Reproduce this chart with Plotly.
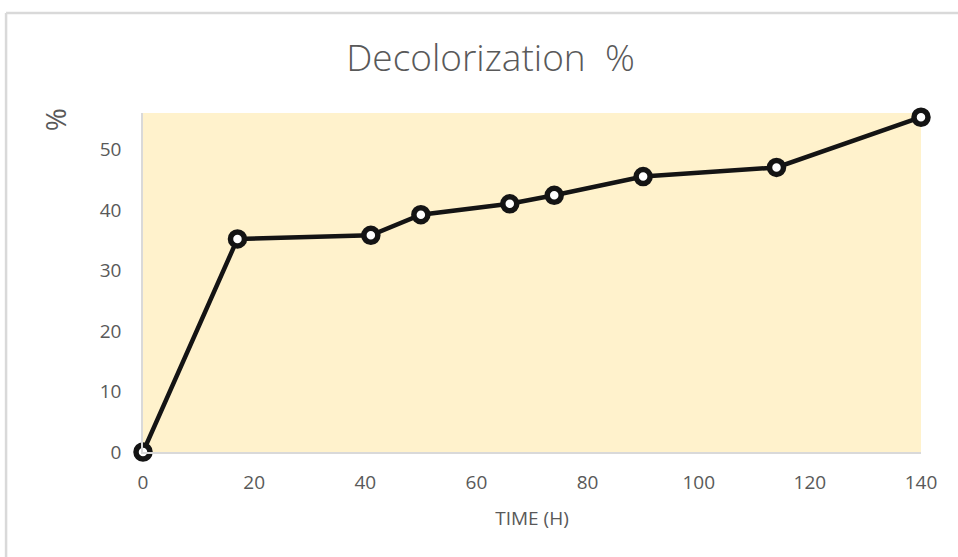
import plotly.graph_objects as go

# Decolorization measured over time
time_h = [0, 17, 41, 50, 66, 74, 90, 114, 140]
decolorization_pct = [0, 35.2, 35.8, 39.2, 41.0, 42.4, 45.5, 47.0, 55.3]

x_ticks = [0, 20, 40, 60, 80, 100, 120, 140]
y_ticks = [0, 10, 20, 30, 40, 50]

FONT = "Open Sans"
GREY = "#595959"

fig = go.Figure()
fig.add_trace(go.Scatter(
    x=time_h,
    y=decolorization_pct,
    mode="lines+markers",
    line=dict(color="#141414", width=4.5),
    marker=dict(symbol="circle", size=14, color="white",
                line=dict(color="#141414", width=5.5)),
    cliponaxis=False,
    showlegend=False,
))

fig.update_layout(
    width=958,
    height=557,
    paper_bgcolor="white",
    plot_bgcolor="#FFF2CC",
    margin=dict(l=143, r=37, t=113, b=105),
    title=dict(text="Decolorization\u00a0\u00a0%", x=0.512, xanchor="center",
               y=0.895, yanchor="middle",
               font=dict(family=FONT, size=37, color=GREY, weight=300)),
    xaxis=dict(
        range=[0, 140], tickvals=x_ticks, showgrid=False, zeroline=False,
        showline=True, linecolor="#D9D9D9", linewidth=1.5, ticks="",
        ticklabelstandoff=12,
        tickfont=dict(family=FONT, size=19, color=GREY),
        title=dict(text="TIME (H)", standoff=18,
                   font=dict(family=FONT, size=19, color=GREY)),
    ),
    yaxis=dict(
        range=[0, 56], tickvals=y_ticks, showgrid=False, zeroline=False,
        showline=True, linecolor="#D9D9D9", linewidth=1.5, ticks="",
        ticklabelstandoff=16,
        tickfont=dict(family=FONT, size=19, color=GREY),
    ),
    shapes=[
        # chart frame
        dict(type="line", xref="paper", yref="paper", x0=-0.176, x1=1.05,
             y0=1.295, y1=1.295, line=dict(color="#D9D9D9", width=2.5)),
        dict(type="line", xref="paper", yref="paper", x0=-0.176, x1=-0.176,
             y0=1.295, y1=-0.4, line=dict(color="#D9D9D9", width=2.5)),
    ],
    annotations=[
        dict(text="%", xref="paper", yref="paper", x=-0.113, y=0.979,
             xanchor="center", yanchor="middle", textangle=-90,
             showarrow=False, font=dict(family=FONT, size=28, color=GREY)),
    ],
)

fig.write_html("out.html")
